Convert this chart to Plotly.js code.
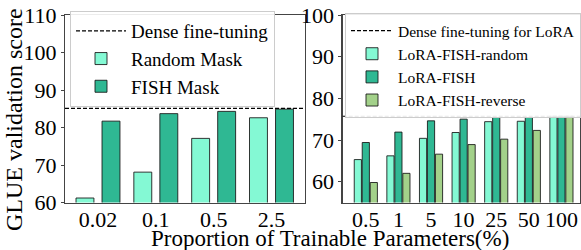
<!DOCTYPE html>
<html>
<head>
<meta charset="utf-8">
<script src="https://cdn.plot.ly/plotly-3.0.1.min.js"></script>
<style>html,body{margin:0;padding:0;background:#fff;}#chart{width:581px;height:250px;}</style>
</head>
<body>
<div id="chart"></div>
<script>
// ---- data ----
const leftCategories = ['0.02', '0.1', '0.5', '2.5'];
const randomMask = [61.2, 68.1, 77.1, 82.6];
const fishMask = [81.7, 83.7, 84.3, 84.9];
const denseLeft = 85.1;

const rightCategories = ['0.5', '1', '5', '10', '25', '50', '100'];
const loraRandom = [65.3, 66.2, 70.4, 71.8, 74.4, 74.5, 75.7];
const loraFish = [69.4, 71.9, 74.6, 75.0, 75.4, 75.4, 75.7];
const loraReverse = [59.8, 62.0, 66.6, 68.9, 70.2, 72.3, 75.7];
const denseRight = 75.7;

const leftYTicks = [60, 70, 80, 90, 100, 110];
const rightYTicks = [60, 70, 80, 90, 100];

// ---- styles ----
const FONT = 'Liberation Serif, Times New Roman, serif';
const cRandom = '#84F9D4';
const cFish = '#2FB893';
const cReverse = '#A3D18A';
const edge = {color: 'rgba(20,20,20,0.85)', width: 1};

const traces = [
  {type: 'bar', name: 'Random Mask', x: leftCategories, y: randomMask,
   xaxis: 'x', yaxis: 'y', width: 0.31, offset: -0.38,
   marker: {color: cRandom, line: edge}, legend: 'legend', legendrank: 2, legendgroup: 'a2'},
  {type: 'bar', name: 'FISH Mask', x: leftCategories, y: fishMask,
   xaxis: 'x', yaxis: 'y', width: 0.31, offset: 0.07,
   marker: {color: cFish, line: edge}, legend: 'legend', legendrank: 3, legendgroup: 'a3'},
  {type: 'bar', name: 'LoRA-FISH-random', x: rightCategories, y: loraRandom,
   xaxis: 'x2', yaxis: 'y2', width: 0.22, offset: -0.355,
   marker: {color: cRandom, line: edge}, legend: 'legend2', legendrank: 2, legendgroup: 'b2'},
  {type: 'bar', name: 'LoRA-FISH', x: rightCategories, y: loraFish,
   xaxis: 'x2', yaxis: 'y2', width: 0.22, offset: -0.11,
   marker: {color: cFish, line: edge}, legend: 'legend2', legendrank: 3, legendgroup: 'b3'},
  {type: 'bar', name: 'LoRA-FISH-reverse', x: rightCategories, y: loraReverse,
   xaxis: 'x2', yaxis: 'y2', width: 0.22, offset: 0.135,
   marker: {color: cReverse, line: edge}, legend: 'legend2', legendrank: 4, legendgroup: 'b4'}
];

const axisCommon = {
  showline: true, mirror: true, linecolor: '#444', linewidth: 1.2,
  showgrid: false, zeroline: false, ticks: 'outside', ticklen: 3,
  tickcolor: '#444', tickfont: {family: FONT, size: 22, color: '#000'}
};

const legendCommon = {
  bgcolor: 'rgba(255,255,255,0.9)', bordercolor: '#cccccc', borderwidth: 1,
  xanchor: 'left', yanchor: 'top', traceorder: 'normal'
};

const layout = {
  width: 581, height: 250,
  margin: {l: 0, r: 0, t: 0, b: 0},
  paper_bgcolor: '#fff', plot_bgcolor: '#fff',
  barmode: 'overlay',
  font: {family: FONT, color: '#000'},
  xaxis: Object.assign({}, axisCommon, {domain: [0.1119, 0.5250], anchor: 'y',
    type: 'category', categoryorder: 'array', categoryarray: leftCategories,
    range: [-0.57, 3.58], ticks: '', ticklabelstandoff: -3}),
  yaxis: Object.assign({}, axisCommon, {domain: [0.19, 0.94], anchor: 'x',
    range: [60, 110], tickvals: leftYTicks, ticktext: leftYTicks.map(String)}),
  xaxis2: Object.assign({}, axisCommon, {domain: [0.5898, 0.9983], anchor: 'y2',
    type: 'category', categoryorder: 'array', categoryarray: rightCategories,
    range: [-0.71, 6.57], ticks: '', ticklabelstandoff: -3}),
  yaxis2: Object.assign({}, axisCommon, {domain: [0.19, 0.94], anchor: 'x2',
    range: [55, 100], tickvals: rightYTicks, ticktext: rightYTicks.map(String)}),
  legend: Object.assign({}, legendCommon, {x: 0.1205, y: 0.956, itemwidth: 50, tracegroupgap: 0,
    font: {family: FONT, size: 19, color: '#000'}}),
  legend2: Object.assign({}, legendCommon, {x: 0.594, y: 0.948, itemwidth: 42, tracegroupgap: 1,
    font: {family: FONT, size: 15.5, color: '#000'}}),
  shapes: [
    {type: 'line', xref: 'x domain', yref: 'y', x0: 0, x1: 1, y0: denseLeft, y1: denseLeft,
     line: {color: '#000', width: 1.2, dash: '4px,2px'},
     showlegend: true, name: 'Dense fine-tuning', legend: 'legend', legendrank: 1, legendgroup: 'a1'},
    {type: 'line', xref: 'x2 domain', yref: 'y2', x0: 0, x1: 1, y0: denseRight, y1: denseRight,
     line: {color: '#000', width: 1.2, dash: '4px,2px'},
     showlegend: true, name: 'Dense fine-tuning for LoRA', legend: 'legend2', legendrank: 1, legendgroup: 'b1'}
  ],
  annotations: [
    {text: 'GLUE validation score', xref: 'paper', yref: 'paper', x: 14 / 581, y: 1 - 120 / 250,
     xanchor: 'center', yanchor: 'middle', textangle: -90, showarrow: false,
     font: {family: FONT, size: 24, color: '#000'}},
    {text: 'Proportion of Trainable Parameters(%)', xref: 'paper', yref: 'paper', x: 330 / 581, y: 1 - 238 / 250,
     xanchor: 'center', yanchor: 'middle', showarrow: false,
     font: {family: FONT, size: 23, color: '#000'}}
  ]
};

Plotly.newPlot('chart', traces, layout, {displayModeBar: false, staticPlot: true});
</script>
</body>
</html>
